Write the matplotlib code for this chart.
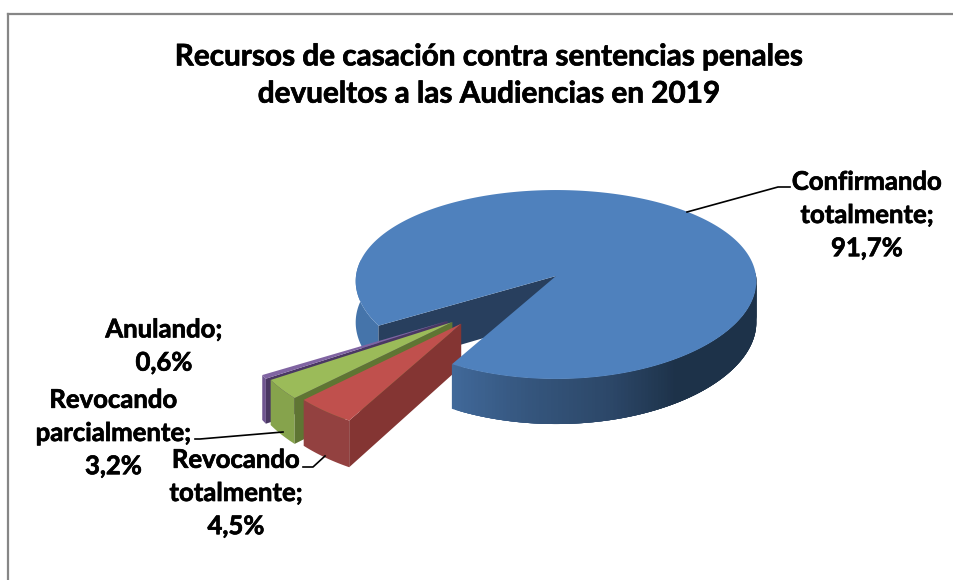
import numpy as np
import matplotlib
matplotlib.use("Agg")
import matplotlib.pyplot as plt
import matplotlib.patheffects as pe
from matplotlib.colors import to_rgb

categories = ["Confirmando\ntotalmente;", "Revocando\ntotalmente;", "Revocando\nparcialmente;", "Anulando;"]
values = [91.7, 4.5, 3.2, 0.6]
title = "Recursos de casación contra sentencias penales\ndevueltos a las Audiencias en 2019"

# style
top_colors = ["#4f81bd", "#c0504d", "#9bbb59", "#8064a2"]
rim_colors = ["#4574aa", "#934140", "#86a34c", "#6f5590"]
wall_colors = ["#283f5e", "#843533", "#5f7533", "#4a3763"]
explode = [0.0, 0.67, 0.69, 0.70]
explode_dir = [0.0, 226.5, 223.0, 221.0]
start_angle = 210.4
CX, CY, RX, RY, K, KX, H = 556.0, 276.0, 200.0, 93.7, 0.09, 0.055, 41.0

plt.rcParams['font.family'] = ['Lato', 'DejaVu Sans']
fig = plt.figure(figsize=(9.54, 5.8), dpi=100)
ax = fig.add_axes([0, 0, 1, 1])
ax.set_xlim(0, 954)
ax.set_ylim(580, 0)
ax.axis("off")


def proj(X, Y, z, ox=0.0, oy=0.0):
    X = np.asarray(X, float) + ox
    Y = np.asarray(Y, float) + oy
    s = 1.0 / (1.0 + K * Y)
    sx = 1.0 / (1.0 + KX * Y)
    return CX + RX * X * sx, CY - RY * Y * s + H * z * s


def arc(a0, a1, n=80):
    t = np.radians(np.linspace(a0, a1, n))
    return np.cos(t), np.sin(t)


def poly(xs, ys, color, z):
    ax.fill(xs, ys, facecolor=color, edgecolor="none", linewidth=0, zorder=z, antialiased=True)


def top(a0, a1, color, z, ox=0.0, oy=0.0):
    X, Y = arc(a0, a1, 240)
    X = np.r_[0, X, 0]
    Y = np.r_[0, Y, 0]
    x, y = proj(X, Y, 0, ox, oy)
    poly(x, y, color, z)


def rim(a0, a1, colorfn, z, ox=0.0, oy=0.0, n=90):
    # strips overlap the next one so that no seams show
    edges = np.linspace(a0, a1, n + 1)
    step = edges[1] - edges[0]
    for k, (e0, e1) in enumerate(zip(edges[:-1], edges[1:])):
        e2 = min(a1, e1 + 3 * step)
        X, Y = arc(e0, e2, max(6, int(e2 - e0) * 2))
        xt, yt = proj(X, Y, 0, ox, oy)
        xb, yb = proj(X, Y, 1, ox, oy)
        poly(np.r_[xt, xb[::-1]], np.r_[yt, yb[::-1]], colorfn((e0 + e1) / 2), z + k * 1e-4)


def wall(a, color, z, ox=0.0, oy=0.0):
    X = np.array([0, np.cos(np.radians(a))])
    Y = np.array([0, np.sin(np.radians(a))])
    xt, yt = proj(X, Y, 0, ox, oy)
    xb, yb = proj(X, Y, 1, ox, oy)
    poly(np.r_[xt, xb[::-1]], np.r_[yt, yb[::-1]], color, z)


sweeps = np.array(values) / sum(values) * 360.0

# main slice, running clockwise from the start angle
blue_end = start_angle - sweeps[0]
blue_low = blue_end + 360.0
rim(170, start_angle, lambda a: rim_colors[0], 1, n=1)
wall(start_angle, wall_colors[0], 2)

# exploded slices
angle = blue_low
for i in range(1, len(values)):
    a1 = angle            # clockwise start, facing the viewer's right
    a0 = angle - sweeps[i]
    angle = a0
    d = np.radians(explode_dir[i])
    ox, oy = explode[i] * np.cos(d), explode[i] * np.sin(d)
    z = 10 - i
    rim(a0, a1, lambda a, c=rim_colors[i]: c, z, ox, oy, n=1)
    wall(a1, wall_colors[i], z + 0.1, ox, oy)
    top(a0, a1, top_colors[i], z + 0.2, ox, oy)

# front rim of the main slice with its shading ramp
stops_a = [blue_low, 262, 285, 305, 380]
stops_c = [to_rgb(c) for c in ["#41699a", "#35567e", "#2c4768", "#1d3249", "#1d3249"]]


def blue_ramp(a):
    return tuple(np.interp(a, stops_a, [c[j] for c in stops_c]) for j in range(3))


rim(blue_low, 362, blue_ramp, 20, n=120)
top(blue_low, start_angle + 360.0, top_colors[0], 21)

# frame
ax.plot([8, 8], [580, 14], color="#868686", lw=1.6, zorder=30, solid_capstyle="projecting")
ax.plot([8, 954], [14, 14], color="#868686", lw=1.6, zorder=30, solid_capstyle="projecting")

# leaders
for px, py in [([687, 778, 790], [212, 187, 187]),
               ([283, 200, 195], [432, 439, 439]),
               ([325, 313, 303], [456, 467, 467])]:
    ax.plot(px, py, color="black", lw=1.2, zorder=31)

# text
heavier = [pe.withStroke(linewidth=0.5, foreground="black")]
ax.text(489, 75, title, ha="center", va="center", fontsize=21.4, fontweight="bold",
        color="black", linespacing=1.4, zorder=40, path_effects=heavier)
label_pos = [(867, 215), (236, 493), (113.5, 433), (164, 346)]
for name, v, (x, y) in zip(categories, values, label_pos):
    s = f"{name}\n{v:.1f}%".replace(".", ",")
    ax.text(x, y, s, ha="center", va="center", fontsize=18.5, fontweight="bold",
            color="black", linespacing=1.46, zorder=40, path_effects=heavier)

fig.savefig("out.png", dpi=100, facecolor="white")
